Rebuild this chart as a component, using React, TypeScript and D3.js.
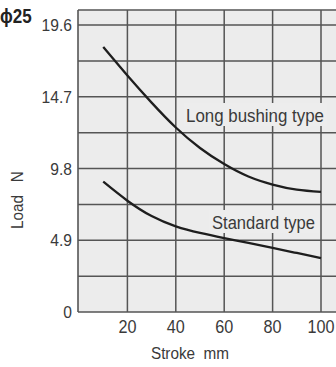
import React from "react";
import * as d3 from "d3";

const strokes = [10, 20, 30, 40, 50, 60, 70, 80, 90, 100];
const longBushing = [18.1, 16.15, 14.3, 12.6, 11.2, 10.1, 9.25, 8.7, 8.35, 8.2];
const standard = [8.9, 7.6, 6.55, 5.85, 5.4, 5.05, 4.72, 4.38, 4.03, 3.68];
const yTicks = [0, 2.45, 4.9, 7.35, 9.8, 12.25, 14.7, 17.15, 19.6];
const yTickLabels = ["0", "4.9", "9.8", "14.7", "19.6"];
const yLabelValues = [0, 4.9, 9.8, 14.7, 19.6];
const xTicks = [20, 40, 60, 80, 100];
const xTickLabels = ["20", "40", "60", "80", "100"];

const W = 336;
const H = 367;
const x = d3.scaleLinear().domain([0, 100]).range([79, 321]);
const y = d3.scaleLinear().domain([0, 19.6]).range([312, 25]);
const yMax = 20.62;

const FONT = "'Liberation Sans', Arial, sans-serif";
const TXT = "#3a3a3a";
const GRID = "#555";

const line = d3
  .line<number>()
  .x((_, i) => x(strokes[i]))
  .y((d) => y(d))
  .curve(d3.curveNatural);

export default function App() {
  const plotLeft = x(0) - 1;
  const plotTop = y(yMax);
  const plotBottom = y(0);
  return (
    <svg
      width={W}
      height={H}
      style={{ position: "absolute", left: 0, top: 0, background: "#fff" }}
    >
      <rect
        x={plotLeft}
        y={plotTop}
        width={W - plotLeft}
        height={plotBottom - plotTop}
        fill="#ececec"
      />
      {/* horizontal grid */}
      {yTicks.map((t) => (
        <line
          key={"h" + t}
          x1={plotLeft}
          x2={W}
          y1={y(t)}
          y2={y(t)}
          stroke={GRID}
          strokeWidth={1.5}
        />
      ))}
      <line x1={plotLeft} x2={W} y1={plotTop} y2={plotTop} stroke={GRID} strokeWidth={1.5} />
      {/* vertical grid */}
      {[0, ...xTicks].map((t) => (
        <line
          key={"v" + t}
          x1={t === 0 ? plotLeft : x(t)}
          x2={t === 0 ? plotLeft : x(t)}
          y1={plotTop}
          y2={plotBottom}
          stroke={GRID}
          strokeWidth={t === 0 ? 1.6 : 1.5}
        />
      ))}
      {/* label backgrounds */}
      <rect x={184} y={103} width={143} height={23} fill="#ededed" />
      <rect x={209} y={210} width={110} height={23} fill="#ededed" />
      {/* curves */}
      <path d={line(longBushing) || ""} fill="none" stroke="#1e1e1e" strokeWidth={2.3} />
      <path d={line(standard) || ""} fill="none" stroke="#1e1e1e" strokeWidth={2.3} />
      <text
        x={186}
        y={122}
        fontFamily={FONT}
        fontSize={17.5}
        fill={TXT}
        textLength={138}
        lengthAdjust="spacingAndGlyphs"
      >
        Long bushing type
      </text>
      <text
        x={212}
        y={228.5}
        fontFamily={FONT}
        fontSize={17.5}
        fill={TXT}
        textLength={103}
        lengthAdjust="spacingAndGlyphs"
      >
        Standard type
      </text>
      {/* y tick labels */}
      {yLabelValues.map((v, i) => (
        <text
          key={"yl" + v}
          transform={`translate(72,${y(v) + 6}) scale(0.92,1)`}
          textAnchor="end"
          fontFamily={FONT}
          fontSize={17}
          fill={TXT}
        >
          {yTickLabels[i]}
        </text>
      ))}
      {/* x tick labels */}
      {xTicks.map((v, i) => (
        <text
          key={"xl" + v}
          transform={`translate(${x(v)},333) scale(0.9,1)`}
          textAnchor="middle"
          fontFamily={FONT}
          fontSize={18}
          fill={TXT}
        >
          {xTickLabels[i]}
        </text>
      ))}
      <text
        transform="translate(190,359) scale(0.9,1)"
        textAnchor="middle"
        fontFamily={FONT}
        fontSize={17}
        fill={TXT}
        xmlSpace="preserve"
      >
        Stroke  mm
      </text>
      <text
        transform="translate(23,200) rotate(-90) scale(0.9,1)"
        textAnchor="middle"
        fontFamily={FONT}
        fontSize={17}
        fill={TXT}
        xmlSpace="preserve"
      >
        Load   N
      </text>
      <text
        transform="translate(0,23) scale(0.85,1)"
        fontFamily={FONT}
        fontSize={20}
        fontWeight="bold"
        fill="#222"
      >
        ϕ25
      </text>
    </svg>
  );
}
